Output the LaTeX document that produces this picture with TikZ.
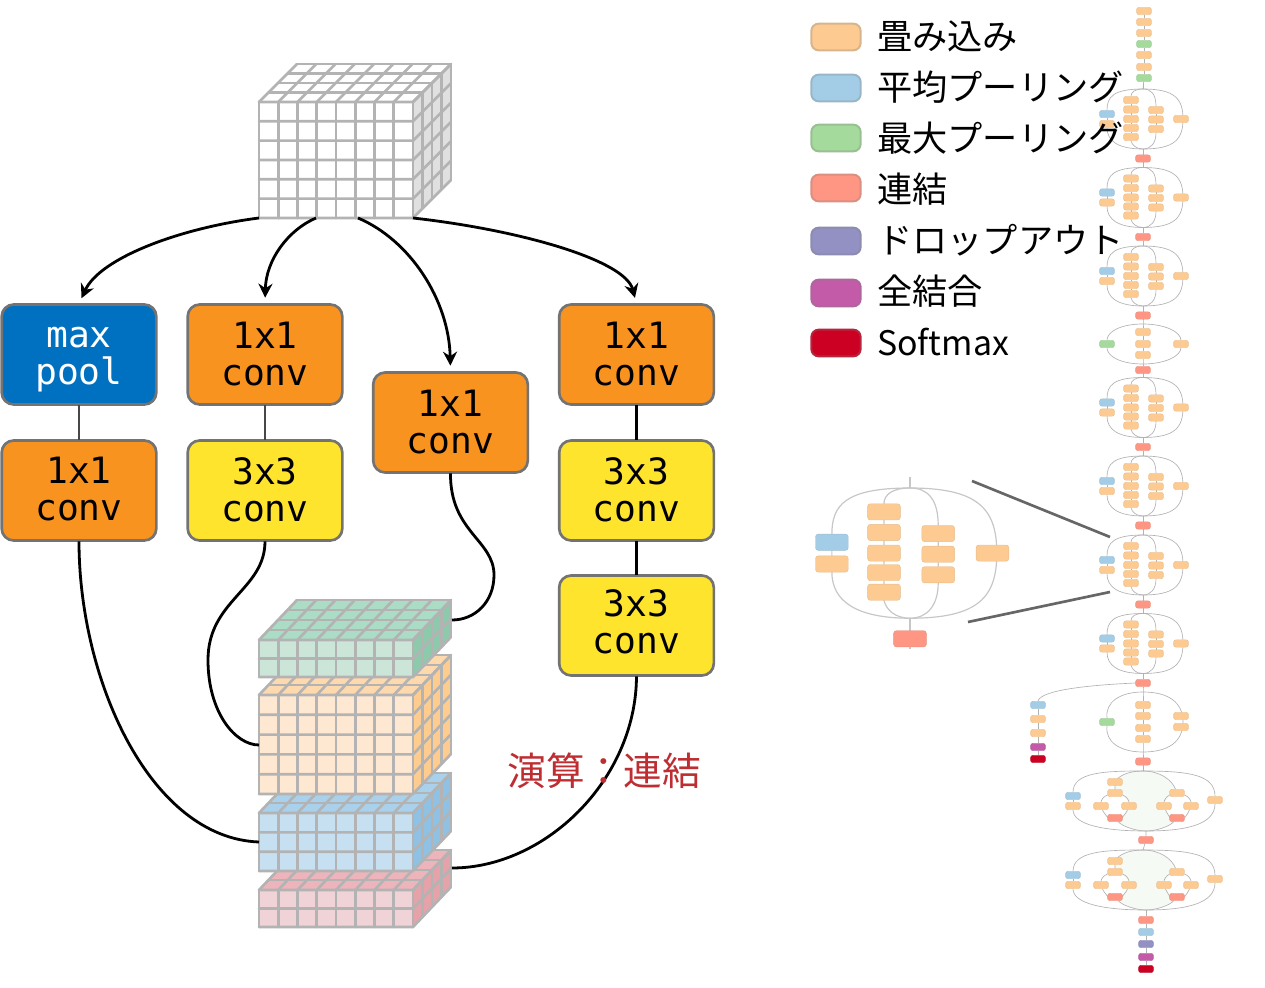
\documentclass[tikz,border=0pt]{standalone}
\usepackage{fontspec}
\setmainfont{Noto Sans CJK JP}
\newfontfamily\jpfont{Noto Sans CJK JP}
\newfontfamily\monofont{DejaVu Sans Mono}
\usetikzlibrary{arrows.meta,backgrounds}
\definecolor{cOr}{HTML}{FDCB92}
\definecolor{cBl}{HTML}{A3CDE6}
\definecolor{cGr}{HTML}{A4DA9C}
\definecolor{cRe}{HTML}{FF9683}
\definecolor{cPu}{HTML}{9390C4}
\definecolor{cPi}{HTML}{C35BA8}
\definecolor{cSo}{HTML}{CC0022}
\definecolor{cGrid}{HTML}{B3B3B3}
\definecolor{cPale}{HTML}{F6FAF4}
\definecolor{cBlue}{HTML}{0070C0}
\definecolor{cOrange}{HTML}{F9931F}
\definecolor{cYellow}{HTML}{FFE42E}
\definecolor{cText}{HTML}{BE2D32}
\definecolor{gF}{HTML}{CBE6D9}\definecolor{gT}{HTML}{ABDCC5}\definecolor{gS}{HTML}{8DCAAB}
\definecolor{oF}{HTML}{FFE8D1}\definecolor{oT}{HTML}{FFD9AE}\definecolor{oS}{HTML}{FFCC90}
\definecolor{bF}{HTML}{C6E0F1}\definecolor{bT}{HTML}{AAD1EC}\definecolor{bS}{HTML}{8FC1E4}
\definecolor{rF}{HTML}{F0D3D6}\definecolor{rT}{HTML}{EDB5BB}\definecolor{rS}{HTML}{E5A2A9}
\newcommand\lift[1]{\rule[-#1pt]{0pt}{0pt}}
\tikzset{
  opbox/.style={draw=black!55,line width=2pt,rounded corners=9pt,minimum width=116pt,minimum height=75pt,inner sep=0pt,outer sep=0.6pt,align=center,font=\monofont\fontsize{27.2}{27.75}\selectfont},
  flow/.style={line width=2.1pt,black},
  flowhead/.style={flow,-{Stealth[length=10.5pt,width=10.5pt]},shorten >=4.5pt},
  link/.style={line width=2.1pt},
  sb/.style={minimum width=11.3pt,minimum height=5.6pt,inner sep=0pt,outer sep=0pt,rounded corners=2pt,line width=0.3pt,transform shape},
  thinl/.style={line width=0.5pt,black!30},
  thickl/.style={line width=0.9pt,black!22},
  legbox/.style={minimum width=37pt,minimum height=20pt,inner sep=0pt,rounded corners=5.5pt,line width=1.5pt},
  legtxt/.style={anchor=base west,inner sep=0pt,font=\jpfont\fontsize{26.4}{30}\selectfont},
}
\newcommand\bx[4]{\node[sb,fill=#4,draw=#4!80!gray] (#1) at (#2,#3) {};}
% one cuboid: front top, front bottom, rows, depth in y, front, top, side colours
\newcommand\cuboid[7]{%
  \fill[#5] (259,#1) rectangle (413,#2);
  \fill[#6] (259,#1) -- (413,#1) -- (451,#1-#4) -- (297,#1-#4) -- cycle;
  \fill[#7] (413,#1) -- (451,#1-#4) -- (451,#2-#4) -- (413,#2) -- cycle;
  \begin{scope}[cGrid,line width=2pt,line cap=round,line join=round]
  \foreach \i in {0,...,8}{
    \draw ({259+\i*19.25},#1) -- ({259+\i*19.25},#2);
    \draw ({259+\i*19.25},#1) -- ({297+\i*19.25},#1-#4);
  }
  \foreach \i in {0,...,#3}{
    \draw (259,{#1+\i*(#2-#1)/#3}) -- (413,{#1+\i*(#2-#1)/#3}) -- (451,{#1+\i*(#2-#1)/#3-#4});
  }
  \foreach \i in {0,...,4}{
    \draw ({413+\i*9.5},{#1-\i*#4/4}) -- ({413+\i*9.5},{#2-\i*#4/4});
    \draw ({259+\i*9.5},{#1-\i*#4/4}) -- ({413+\i*9.5},{#1-\i*#4/4});
  }
  \end{scope}
}
% inception module: name, cx, top, scale, line style
\newcommand\incept[5]{%
  \begin{scope}[shift={(#2,#3)},scale=#4]
    \coordinate (#1t) at (0,0);
    \coordinate (#1b) at (0,60);
    \coordinate (#1u) at (0,-5);
    \coordinate (#1d) at (0,74);
    \bx{#1l1}{-36}{25}{cBl}\bx{#1l2}{-36}{35}{cOr}
    \bx{#1a1}{-12}{11}{cOr}\bx{#1a2}{-12}{20.5}{cOr}\bx{#1a3}{-12}{30}{cOr}\bx{#1a4}{-12}{39}{cOr}\bx{#1a5}{-12}{48}{cOr}
    \bx{#1b1}{13}{21}{cOr}\bx{#1b2}{13}{30.5}{cOr}\bx{#1b3}{13}{40}{cOr}
    \bx{#1c1}{38}{30}{cOr}
    \bx{#1r}{0}{69.5}{cRe}
    \begin{pgfonlayer}{background}
      \draw[#5] (#1u) -- (#1t) (#1b) -- (#1r) -- (#1d);
      \draw[#5] (#1t) .. controls (-30,0) and (-36,8) .. (#1l1.north);
      \draw[#5] (#1l1) -- (#1l2);
      \draw[#5] (#1l2.south) .. controls (-36,52) and (-25,60) .. (#1b);
      \draw[#5] (#1t) .. controls (32,0) and (40,10) .. (40,30) .. controls (40,50) and (32,60) .. (#1b);
      \draw[#5] (#1t) .. controls (-8,0) and (-12,3) .. (#1a1.north);
      \draw[#5] (#1a1) -- (#1a2) -- (#1a3) -- (#1a4) -- (#1a5);
      \draw[#5] (#1a5.south) .. controls (-11,56) and (-7,60) .. (#1b);
      \draw[#5] (#1t) .. controls (8,0) and (13,5) .. (#1b1.north);
      \draw[#5] (#1b1) -- (#1b2) -- (#1b3);
      \draw[#5] (#1b3.south) .. controls (13,54) and (8,60) .. (#1b);
    \end{pgfonlayer}
  \end{scope}
}
% late inception module drawn with shifted y
\newcommand\late[2]{%
  \begin{scope}[shift={(0,#2)}]
    \coordinate (#1t) at (1143,771);
    \coordinate (#1b) at (1146,831);
    \bx{#1l1}{1073}{796}{cBl}\bx{#1l2}{1073}{806}{cOr}
    \bx{#1a0}{1115}{782}{cOr}\bx{#1a1}{1115}{793}{cOr}\bx{#1a2}{1101}{806}{cOr}\bx{#1a3}{1129}{806}{cOr}\bx{#1a4}{1115}{818}{cRe}
    \bx{#1b1}{1177}{793}{cOr}\bx{#1b2}{1164}{806}{cOr}\bx{#1b3}{1191}{806}{cOr}\bx{#1b4}{1177}{818}{cRe}
    \bx{#1c}{1215}{800}{cOr}
    \begin{pgfonlayer}{background}
      \fill[cPale] (#1t) .. controls (1128,771) and (1118,776) .. (1115,782) -- (1115,793) .. controls (1124,796) and (1129,800) .. (1129,806) .. controls (1129,812) and (1124,816) .. (1115,818) .. controls (1122,826) and (1135,831) .. (#1b) .. controls (1157,831) and (1170,826) .. (1177,818) .. controls (1170,816) and (1164,812) .. (1164,806) .. controls (1164,800) and (1170,796) .. (1177,793) .. controls (1172,780) and (1160,771) .. (#1t) -- cycle;
      \draw[thinl] (#1t) .. controls (1105,771) and (1073,772) .. (#1l1.north);
      \draw[thinl] (#1l1) -- (#1l2);
      \draw[thinl] (#1l2.south) .. controls (1073,825) and (1105,831) .. (#1b);
      \draw[thinl] (#1t) .. controls (1128,771) and (1118,776) .. (#1a0.center) -- (#1a1.center);
      \draw[thinl] (#1a1) .. controls (1104,796) and (1101,800) .. (#1a2) .. controls (1104,814) and (1109,818) .. (#1a4);
      \draw[thinl] (#1a1) .. controls (1126,796) and (1129,800) .. (#1a3) .. controls (1126,814) and (1121,818) .. (#1a4);
      \draw[thinl] (#1a4) .. controls (1122,826) and (1135,831) .. (#1b);
      \draw[thinl] (#1t) .. controls (1160,771) and (1172,780) .. (#1b1);
      \draw[thinl] (#1b1) .. controls (1167,796) and (1164,800) .. (#1b2) .. controls (1167,814) and (1171,818) .. (#1b4);
      \draw[thinl] (#1b1) .. controls (1188,796) and (1191,800) .. (#1b3) .. controls (1188,814) and (1184,818) .. (#1b4);
      \draw[thinl] (#1b4) .. controls (1170,826) and (1157,831) .. (#1b);
      \draw[thinl] (#1t) .. controls (1190,771) and (1215,775) .. (#1c.north);
      \draw[thinl] (#1c.south) .. controls (1215,825) and (1185,831) .. (#1b);
    \end{pgfonlayer}
  \end{scope}
}
\pgfdeclarelayer{background}
\begin{document}
\begin{tikzpicture}[x=0.75pt,y=-0.75pt]
\useasboundingbox (0,0) rectangle (1265,988);

% ---------- cuboids
\cuboid{102}{218}{6}{38}{white}{white}{black!12}
\coordinate (cubeW) at (259,218);
\coordinate (cubeA) at (316,218);
\coordinate (cubeB) at (358,218);
\coordinate (cubeE) at (413,218);

\cuboid{890}{927}{2}{40}{rF}{rT}{rS}
\cuboid{813}{871}{3}{40}{bF}{bT}{bS}
\cuboid{695}{794}{5}{40}{oF}{oT}{oS}
\cuboid{640}{677}{2}{40}{gF}{gT}{gS}
\coordinate (catG) at (452,620);
\coordinate (catO) at (259,745);
\coordinate (catB) at (259,842);
\coordinate (catR) at (452,868);

% ---------- operation boxes
\node[opbox,fill=cBlue,text=white] (mp) at (79,354.5) {\vphantom{1}max\\\smash{pool}\lift{3}};
\node[opbox,fill=cOrange] (a1) at (79,490.5) {1x1\\conv\lift{2}};
\node[opbox,fill=cOrange] (b1) at (265,354.5) {1x1\\conv};
\node[opbox,fill=cYellow] (b2) at (265,490.5) {3x3\\conv\lift{2}};
\node[opbox,fill=cOrange] (c1) at (450.5,422.5) {1x1\\conv};
\node[opbox,fill=cOrange] (d1) at (636.5,354.5) {1x1\\conv};
\node[opbox,fill=cYellow] (d2) at (636.5,490.5) {3x3\\conv\lift{2}};
\node[opbox,fill=cYellow] (d3) at (636.5,625.5) {3x3\\conv\lift{6}};

\draw[link,black!72] (mp) -- (a1);
\draw[link,black!72] (b1) -- (b2);
\draw[link,black] (d1) -- (d2);
\draw[link,black] (d2) -- (d3);

\draw[flowhead] (cubeW) .. controls (180,228) and (100,258) .. (mp.north);
\draw[flowhead] (cubeA) .. controls (288,230) and (266,260) .. (b1.north);
\draw[flowhead] (cubeB) .. controls (410,240) and (449,300) .. (c1.north);
\draw[flowhead] (cubeE) .. controls (520,230) and (625,260) .. (d1.north);

\draw[flow] (a1.south) .. controls (79,680) and (150,838) .. (catB);
\draw[flow] (b2.south) .. controls (265,590) and (208,600) .. (208,660) .. controls (208,712) and (235,745) .. (catO);
\draw[flow] (c1.south) .. controls (450,532) and (494,540) .. (494,575) .. controls (494,602) and (475,620) .. (catG);
\draw[flow] (d3.south) .. controls (636,780) and (545,868) .. (catR);

% ---------- network overview
\foreach \n/\yy/\cc in {1/11/cOr,2/22/cOr,3/33/cOr,4/44/cGr,5/55/cOr,6/67/cOr,7/78/cGr}{
  \bx{s\n}{1144}{\yy}{\cc}
}
\begin{pgfonlayer}{background}
  \draw[thinl] (s1) -- (s2) -- (s3) -- (s4) -- (s5) -- (s6) -- (s7);
\end{pgfonlayer}
\incept{m1}{1143}{89}{1}{thinl}
\incept{m2}{1143}{167.5}{1}{thinl}
\incept{m3}{1143}{246}{1}{thinl}
\incept{m5}{1143}{377.5}{1}{thinl}
\incept{m6}{1143}{456}{1}{thinl}
\incept{m7}{1143}{535}{1}{thinl}
\incept{m8}{1143}{613.5}{1}{thinl}
\incept{big}{910}{488}{2.17}{thickl}
\begin{pgfonlayer}{background}
  \draw[thinl] (s7) -- (m1t);
\end{pgfonlayer}

% module with the max pool branch (upper)
\coordinate (u4t) at (1143,324);
\coordinate (u4b) at (1143,364);
\bx{u4l}{1107}{344}{cGr}
\bx{u4a}{1143}{332}{cOr}\bx{u4e}{1143}{344}{cOr}\bx{u4f}{1143}{355}{cOr}
\bx{u4c}{1181}{344}{cOr}
\bx{u4r}{1143}{370}{cRe}
\begin{pgfonlayer}{background}
  \draw[thinl] (m3r) -- (u4t) -- (u4a) -- (u4e) -- (u4f) -- (u4b) -- (u4r) -- (m5u);
  \draw[thinl] (u4t) .. controls (1120,324) and (1107,332) .. (u4l) .. controls (1107,356) and (1120,364) .. (u4b);
  \draw[thinl] (u4t) .. controls (1165,324) and (1181,332) .. (u4c) .. controls (1181,356) and (1165,364) .. (u4b);
\end{pgfonlayer}

% module with the max pool branch (lower)
\coordinate (v9t) at (1143,692);
\coordinate (v9b) at (1143,752);
\bx{v9l}{1107}{722}{cGr}
\bx{v9a}{1143}{705}{cOr}\bx{v9e}{1143}{716}{cOr}\bx{v9f}{1143}{728}{cOr}\bx{v9g}{1143}{739}{cOr}
\bx{v9c}{1181}{716}{cOr}\bx{v9d}{1181}{727}{cOr}
\bx{v9r}{1143}{761.5}{cRe}
\begin{pgfonlayer}{background}
  \draw[thinl] (m8r) -- (v9t) -- (v9a) -- (v9e) -- (v9f) -- (v9g) -- (v9b) -- (v9r);
  \draw[thinl] (v9t) .. controls (1120,692) and (1105,702) .. (v9l.north) (v9l.south) .. controls (1105,742) and (1120,752) .. (v9b);
  \draw[thinl] (v9t) .. controls (1168,692) and (1183,702) .. (1183,722) .. controls (1183,742) and (1168,752) .. (v9b);
\end{pgfonlayer}

% auxiliary classifier
\bx{x1}{1038}{705}{cBl}\bx{x2}{1038}{719}{cOr}\bx{x3}{1038}{733}{cOr}\bx{x4}{1038}{747}{cPi}\bx{x5}{1038}{759}{cSo}
\begin{pgfonlayer}{background}
  \draw[thinl] (m8r.west) .. controls (1090,685) and (1040,690) .. (x1.north);
  \draw[thinl] (x1) -- (x2) -- (x3) -- (x4) -- (x5);
\end{pgfonlayer}

% late modules
\late{p}{0}
\late{q}{79}
\bx{w1}{1146}{840}{cRe}
\bx{w2}{1146}{920}{cRe}\bx{w3}{1146}{932}{cBl}\bx{w4}{1146}{944}{cPu}\bx{w5}{1146}{957}{cPi}\bx{w6}{1146}{969}{cSo}
\begin{pgfonlayer}{background}
  \draw[thinl] (v9r) -- (pt);
  \draw[thinl] (pb) -- (w1) -- (qt);
  \draw[thinl] (qb) -- (w2) -- (w3) -- (w4) -- (w5) -- (w6);
\end{pgfonlayer}

% zoom guide lines
\coordinate (z1) at (972,481);
\coordinate (z2) at (1110,537);
\coordinate (z3) at (968,622);
\coordinate (z4) at (1110,592);
\draw[line width=2pt,black!60] (z1) -- (z2);
\draw[line width=2pt,black!60] (z3) -- (z4);

% ---------- legend
\foreach \n/\yy/\tyy/\cc/\tt in {1/37/38/cOr/畳み込み,2/88/89/cBl/平均プーリング,3/138/140/cGr/最大プーリング,4/188/191/cRe/連結,5/241/241/cPu/ドロップアウト,6/293/293/cPi/全結合}{
  \node[legbox,fill=\cc,draw=\cc!70!gray] (leg\n) at (836,\yy) {};
  \node[legtxt] (legt\n) at (877,\tyy+12) {\tt};
}
\node[legbox,fill=cSo,draw=cSo!70!gray] (leg7) at (836,343) {};
\node[legtxt,font=\jpfont\fontsize{25.4}{30}\selectfont] (legt7) at (877,355) {Softmax};

\node[text=cText,inner sep=0pt,font=\jpfont\fontsize{29}{30}\selectfont] (opcat) at (604,771) {演算：連結};
\end{tikzpicture}
\end{document}
